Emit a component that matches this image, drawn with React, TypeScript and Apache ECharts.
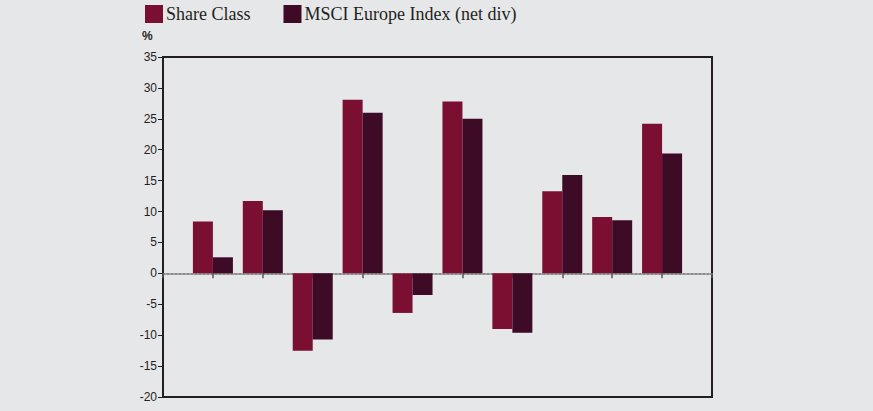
import React, { useEffect, useRef } from "react";
import * as echarts from "echarts";

const categories = ["", "1", "2", "3", "4", "5", "6", "7", "8", "9", "10", ""];
const shareClass = [null, 8.4, 11.7, -12.5, 28.1, -6.4, 27.8, -9.0, 13.3, 9.1, 24.2, null];
const msciEurope = [null, 2.6, 10.2, -10.7, 26.0, -3.5, 25.0, -9.6, 15.9, 8.6, 19.4, null];
const seriesNames = ["Share Class", "MSCI Europe Index (net div)"];
const yMin = -20;
const yMax = 35;
const yStep = 5;

export default function App() {
  const ref = useRef<HTMLDivElement>(null);
  useEffect(() => {
    if (!ref.current) return;
    const chart = echarts.init(ref.current, null, { renderer: "svg" });
    chart.setOption({
      animation: false,
      backgroundColor: "#e6e7e9",
      legend: {
        left: 145,
        top: 5,
        padding: 0,
        itemWidth: 18,
        itemHeight: 18,
        itemGap: 33,
        icon: "rect",
        textStyle: { fontFamily: "Liberation Serif", fontSize: 18, color: "#231f20", padding: [2, 0, 0, -2] },
        data: seriesNames,
      },
      graphic: [
        {
          type: "text",
          left: 142,
          top: 30,
          style: { text: "%", fontFamily: "Liberation Sans", fontSize: 12, fontWeight: "bold", fill: "#231f20" },
        },
      ],
      grid: {
        left: 163,
        top: 57,
        right: 161,
        bottom: 14,
        show: true,
        borderColor: "#231f20",
        borderWidth: 2,
        backgroundColor: "transparent",
      },
      xAxis: {
        type: "category",
        data: categories,
        boundaryGap: false,
        axisLine: { onZero: true, lineStyle: { color: "#8c8c8c", width: 2, type: [2, 2] } },
        axisTick: { show: true, length: 5, lineStyle: { color: "#555", width: 1.5 } },
        axisLabel: { show: false },
        splitLine: { show: false },
      },
      yAxis: {
        type: "value",
        min: yMin,
        max: yMax,
        interval: yStep,
        axisLine: { show: true, lineStyle: { color: "#231f20", width: 2 } },
        axisTick: { show: true, length: 5, lineStyle: { color: "#231f20", width: 1 } },
        axisLabel: { fontFamily: "Liberation Sans", fontSize: 12, color: "#231f20", margin: 6 },
        splitLine: { show: false },
      },
      series: [
        {
          name: seriesNames[0],
          type: "bar",
          data: shareClass,
          barWidth: 20,
          barGap: "0%",
          itemStyle: { color: "#7a0f31" },
        },
        {
          name: seriesNames[1],
          type: "bar",
          data: msciEurope,
          barWidth: 20,
          barGap: "0%",
          itemStyle: { color: "#3d0b25" },
        },
      ],
    });
    return () => chart.dispose();
  }, []);
  return <div ref={ref} style={{ position: "fixed", left: 0, top: 0, width: 873, height: 411 }} />;
}
